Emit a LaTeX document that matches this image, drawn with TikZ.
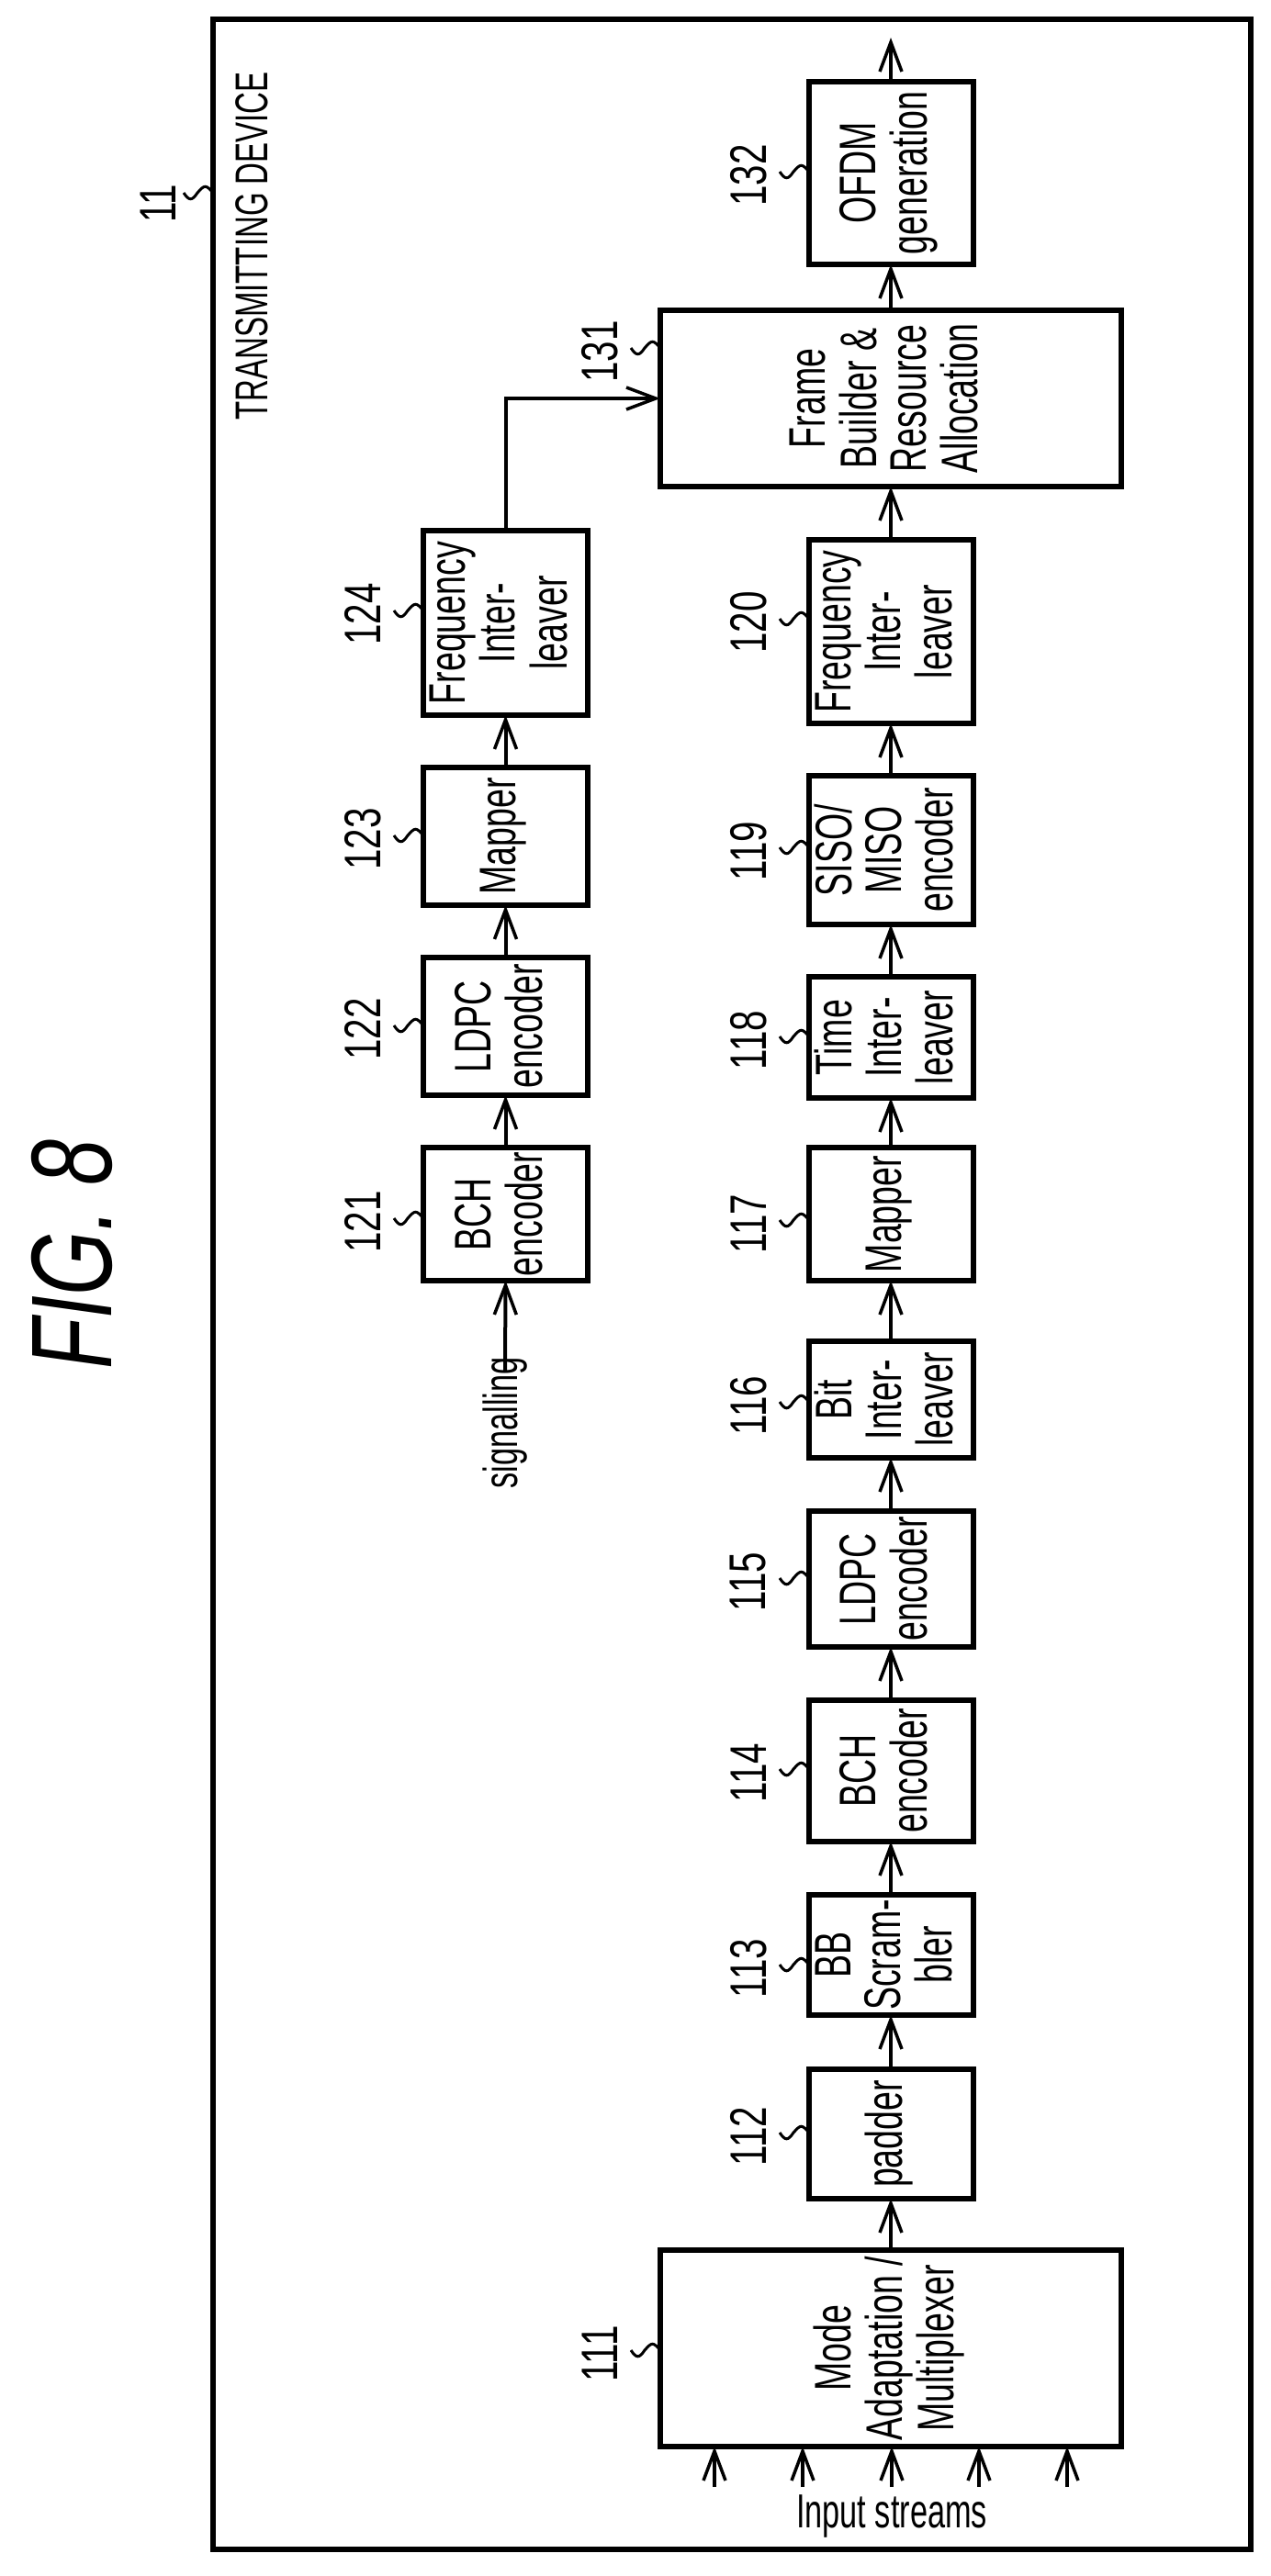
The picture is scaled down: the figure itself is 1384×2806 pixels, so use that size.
\documentclass[tikz,border=0pt]{standalone}
\usepackage{fontspec}
\setmainfont{Liberation Sans}
\usetikzlibrary{arrows.meta,calc}
\newcommand\nar[1]{\scalebox{0.67}[1]{\begin{tabular}{@{}c@{}}#1\end{tabular}}}
\newcommand\num[1]{\scalebox{0.72}[1]{#1}}
\begin{document}
\begin{tikzpicture}[x=1pt,y=-1pt,
  box/.style={draw,line width=6pt,minimum width=179pt,inner sep=0pt,outer sep=0pt},
  big/.style={box,minimum width=502pt},
  txt/.style={rotate=90,font=\fontsize{56}{52}\selectfont,inner sep=0pt},
  lab/.style={rotate=90,font=\fontsize{56}{56}\selectfont,inner sep=0pt},
  arr/.style={line width=4pt,-{Straight Barb[length=32pt,width=24pt,line width=3.5pt]}},
  lead/.style={line width=3pt}]
\useasboundingbox (0,0) rectangle (1384,2806);
\draw[line width=6pt] (232,21) rectangle (1362,2777);
% title
\node[rotate=90,font=\fontsize{125}{125}\selectfont\itshape,inner sep=0pt] (fig) at (78,1366) {\scalebox{0.72}[1]{FIG. 8}};
\node[txt,font=\fontsize{50}{50}\selectfont] (td) at (274,268) {\scalebox{0.66}[1]{TRANSMITTING DEVICE}};
\node[lab] (l11) at (172,222) {\num{11}};
\coordinate (s11) at (232,210);
% boxes
\node[box,minimum height=199pt,label={[txt]center:\nar{OFDM\\generation}}] (b132) at (970,188.5) {};
\node[big,minimum height=192pt,label={[txt]center:\nar{Frame\\Builder \&\\Resource\\Allocation}}] (b131) at (970,434) {};
\node[box,minimum height=201pt,label={[txt]center:\nar{Frequency\\Inter-\\leaver}}] (b124) at (550.5,678.5) {};
\node[box,minimum height=150pt,label={[txt]center:\nar{Mapper}}] (b123) at (550.5,911) {};
\node[box,minimum height=150pt,label={[txt]center:\nar{LDPC\\encoder}}] (b122) at (550.5,1118) {};
\node[box,minimum height=145pt,label={[txt]center:\nar{BCH\\encoder}}] (b121) at (550.5,1322.5) {};
\node[box,minimum height=200pt,label={[txt]center:\nar{Frequency\\Inter-\\leaver}}] (b120) at (970,688) {};
\node[box,minimum height=162pt,label={[txt]center:\nar{SISO/\\MISO\\encoder}}] (b119) at (970,926) {};
\node[box,minimum height=132pt,label={[txt]center:\nar{Time\\Inter-\\leaver}}] (b118) at (970,1130) {};
\node[box,minimum height=145pt,label={[txt]center:\nar{Mapper}}] (b117) at (970,1322.5) {};
\node[box,minimum height=127pt,label={[txt]center:\nar{Bit\\Inter-\\leaver}}] (b116) at (970,1524.5) {};
\node[box,minimum height=148pt,label={[txt]center:\nar{LDPC\\encoder}}] (b115) at (970,1720) {};
\node[box,minimum height=154pt,label={[txt]center:\nar{BCH\\encoder}}] (b114) at (970,1929) {};
\node[box,minimum height=131pt,label={[txt]center:\nar{BB\\Scram-\\bler}}] (b113) at (970,2129.5) {};
\node[box,minimum height=141pt,label={[txt]center:\nar{padder}}] (b112) at (970,2324.5) {};
\node[big,minimum height=214pt,label={[txt]center:\nar{Mode\\Adaptation /\\Multiplexer}}] (b111) at (970,2558) {};
% reference labels
\foreach \n/\x/\y in {132/881/187,131/719/379,124/461/665,123/461/910,122/461/1117,121/461/1327,
  120/881/674,119/881/923,118/881/1129,117/881/1329,116/881/1527,115/881/1719,114/881/1927,
  113/881/2140,112/881/2323,111/719/2560}{
  \node[lab] (l\n) at (\x-66,\y+4) {\num{\n}};
  \coordinate (s\n) at (\x,\y);
}
\foreach \n in {11,132,131,124,123,122,121,120,119,118,117,116,115,114,113,112,111}{
  \draw[lead] (s\n) .. controls +(-8,-9) and +(8,-9) .. ++(-17,0) .. controls +(-6,9) and +(6,9) .. ++(-15,0);
}
% connectors
\coordinate (out) at (970,41);
\draw[arr] (b132.north) -- (out);
\draw[arr] (b131.north) -- (b132.south);
\draw[arr] (b120.north) -- (b131.south);
\draw[arr] (b119.north) -- (b120.south);
\draw[arr] (b118.north) -- (b119.south);
\draw[arr] (b117.north) -- (b118.south);
\draw[arr] (b116.north) -- (b117.south);
\draw[arr] (b115.north) -- (b116.south);
\draw[arr] (b114.north) -- (b115.south);
\draw[arr] (b113.north) -- (b114.south);
\draw[arr] (b112.north) -- (b113.south);
\draw[arr] (b111.north) -- (b112.south);
\draw[arr] (b121.north) -- (b122.south);
\draw[arr] (b122.north) -- (b123.south);
\draw[arr] (b123.north) -- (b124.south);
\draw[arr] (b124.north) |- (b131.west);
\node[rotate=90,anchor=east,font=\fontsize{52}{52}\selectfont,inner sep=0pt] (sig) at (550,1478) {\scalebox{0.66}[1]{signalling}};
\draw[arr] ([yshift=-16pt]sig.east) -- (b121.south);
\node[font=\fontsize{52}{52}\selectfont,inner sep=0pt] (ins) at (971,2741) {\scalebox{0.66}[1]{Input streams}};
\foreach \i/\x in {1/778,2/874,3/971,4/1066,5/1162}{
  \coordinate (in\i) at (\x,2709);
  \draw[arr] (in\i) -- (in\i |- b111.south);
}
\end{tikzpicture}
\end{document}
